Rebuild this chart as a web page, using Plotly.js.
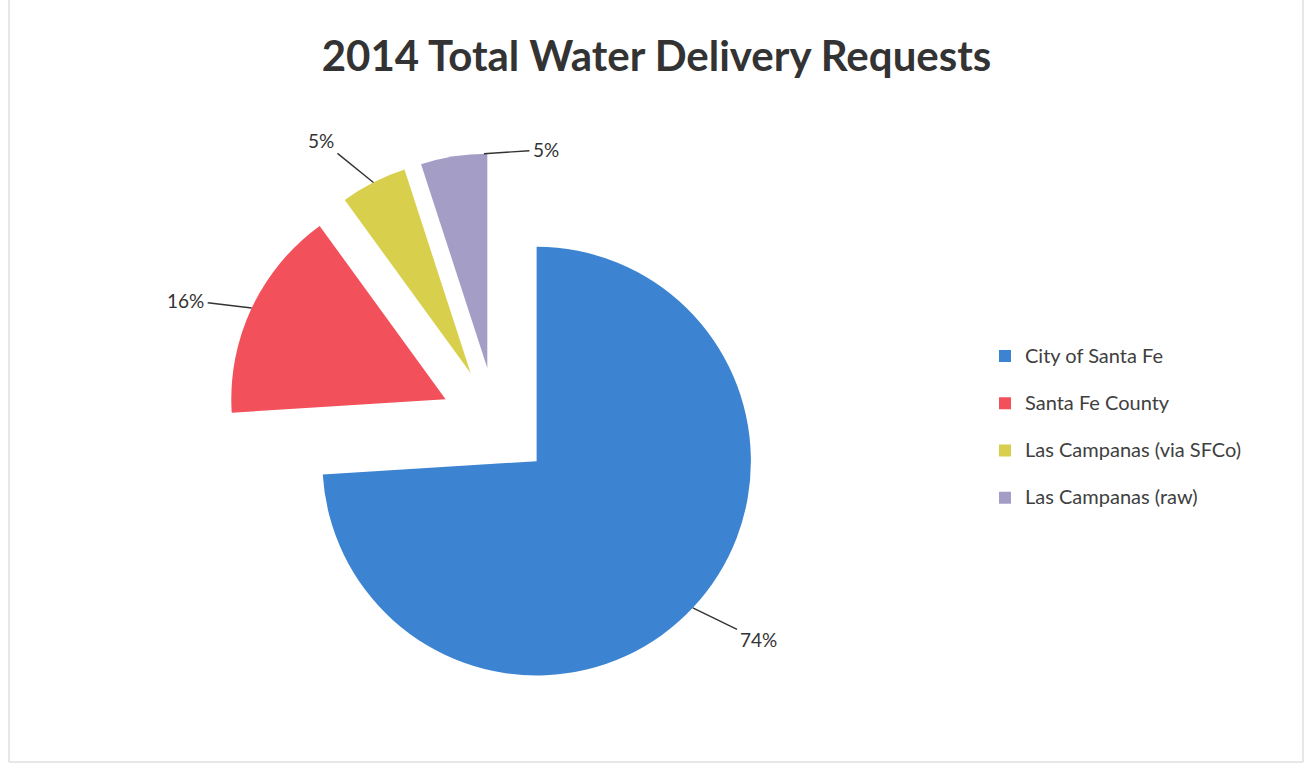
<!DOCTYPE html>
<html>
<head>
<meta charset="utf-8">
<script src="https://cdn.plot.ly/plotly-3.0.1.min.js"></script>
<style>html,body{margin:0;padding:0;background:#fff;}#chart{width:1313px;height:765px;}</style>
</head>
<body>
<div id="chart"></div>
<script>
const categories = ["City of Santa Fe", "Santa Fe County", "Las Campanas (via SFCo)", "Las Campanas (raw)"];
const shares = [74, 16, 5, 5];
const sliceColors = ["#3c84d2", "#f2505a", "#d8d04c", "#a49ec6"];
const chartTitle = "2014 Total Water Delivery Requests";

const W = 1313, H = 765;
const FONT = "Lato, 'Open Sans', sans-serif";
// pie placement (style)
const cx = 496, cy = 423, half = 270, pull = 0.26;
// leader-label styling: where along each slice the leader starts, and the text offset in px
const leaderAt = [0.5, 0.5, 0.5, 0.95];
const leaderOffset = [[66, 32], [-66, -8], [-52, -42], [62, -4]];

const trace = {
  type: "pie",
  labels: categories.map(c => '<span style="font-size:20px">' + c + '</span><br>&nbsp;'),
  values: shares,
  sort: false,
  direction: "clockwise",
  rotation: 0,
  pull: shares.map(() => pull),
  marker: {colors: sliceColors, line: {width: 0}},
  textinfo: "none",
  hoverinfo: "label+percent",
  domain: {x: [(cx - half) / W, (cx + half) / W], y: [(H - cy - half) / H, (H - cy + half) / H]}
};

// percentage labels with leader lines, located from the data (cumulative angles)
const total = shares.reduce((a, b) => a + b, 0);
const r = half / (1 + pull);
let cum = 0;
const annotations = shares.map((v, i) => {
  const a0 = cum / total * 360, a1 = (cum + v) / total * 360;
  cum += v;
  const mid = (a0 + a1) / 2 * Math.PI / 180;
  const at = (a0 + (a1 - a0) * leaderAt[i]) * Math.PI / 180;
  const pcx = cx + pull * r * Math.sin(mid), pcy = cy - pull * r * Math.cos(mid);
  const ex = pcx + r * Math.sin(at), ey = pcy - r * Math.cos(at);
  return {
    xref: "paper", yref: "paper",
    x: ex / W, y: 1 - ey / H,
    ax: leaderOffset[i][0], ay: leaderOffset[i][1],
    text: Math.round(v / total * 100) + "%",
    showarrow: true, arrowhead: 0, arrowwidth: 1.4, arrowcolor: "#333333", standoff: 0, startstandoff: 2,
    font: {family: FONT, size: 19, color: "#333333"}
  };
});

const layout = {
  width: W, height: H,
  margin: {l: 0, r: 0, t: 0, b: 0},
  paper_bgcolor: "#ffffff",
  font: {family: FONT, color: "#404040"},
  title: {
    text: "<b>" + chartTitle + "</b>",
    font: {family: FONT, size: 42, color: "#333333"},
    x: 0.5, xanchor: "center", xref: "paper",
    y: 1 - 56 / H, yanchor: "middle", yref: "paper"
  },
  showlegend: true,
  legend: {
    x: 985 / W, xanchor: "left",
    y: 1 - 438 / H, yanchor: "middle",
    valign: "top",
    font: {family: FONT, size: 17, color: "#404040"},
    bgcolor: "rgba(0,0,0,0)"
  },
  annotations: annotations,
  shapes: [{
    type: "rect", xref: "paper", yref: "paper",
    x0: 9 / W, x1: 1303 / W, y0: 3 / H, y1: 1.05,
    line: {color: "#cfcfcf", width: 1}
  }]
};

Plotly.newPlot("chart", [trace], layout, {displayModeBar: false, staticPlot: true});
</script>
</body>
</html>
